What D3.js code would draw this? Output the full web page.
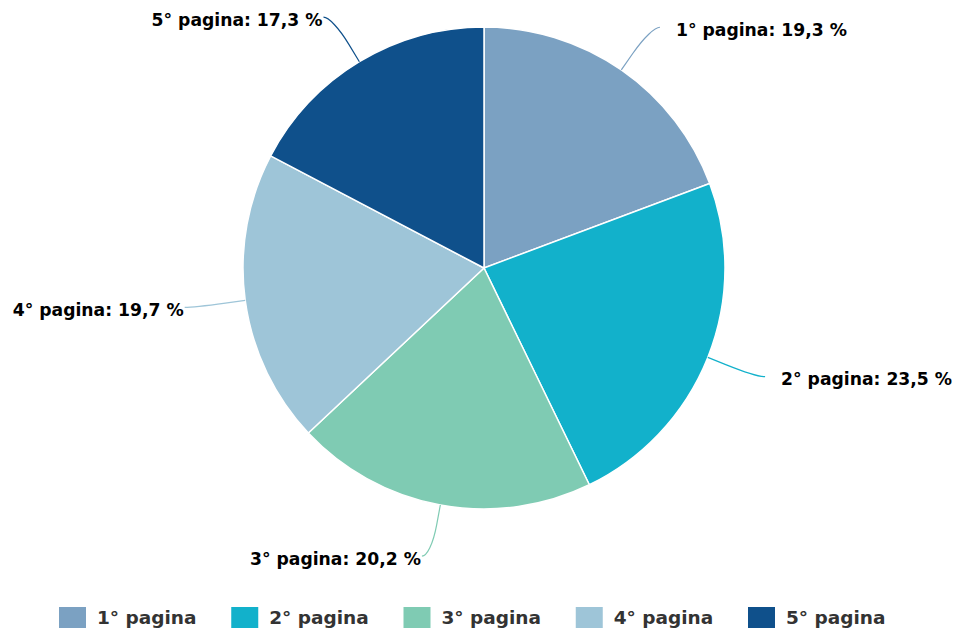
<!DOCTYPE html>
<html><head><meta charset="utf-8">
<script src="https://cdn.jsdelivr.net/npm/d3@7"></script>
<style>
html,body{margin:0;padding:0;background:#fff;}
svg{display:block;}
</style></head>
<body>
<svg id="chart" width="956" height="631"></svg>
<script>
const categories = ["1° pagina", "2° pagina", "3° pagina", "4° pagina", "5° pagina"];
const values = [19.3, 23.5, 20.2, 19.7, 17.3];
const valueLabels = ["19,3", "23,5", "20,2", "19,7", "17,3"];
const colors = ["#7ba1c2", "#12b1cb", "#7fcbb3", "#9ec5d8", "#0f508b"];

const W = 956, H = 631;
const cx = 484, cy = 268, r = 241;
const labelDist = 52, hPad = 9;
const svg = d3.select("#chart");
const font = "'DejaVu Sans', Verdana, sans-serif";

const pie = d3.pie().sort(null).value(d => d.v);
const data = pie(categories.map((c, i) => ({c, v: values[i], lab: valueLabels[i], col: colors[i]})));
const arc = d3.arc().innerRadius(0).outerRadius(r);

const g = svg.append("g").attr("transform", `translate(${cx},${cy})`);
g.selectAll("path.slice").data(data).join("path")
  .attr("class", "slice")
  .attr("d", arc)
  .attr("fill", d => d.data.col)
  .attr("stroke", "#ffffff")
  .attr("stroke-width", 1.5)
  .attr("stroke-linejoin", "round");

function pos(a, rad) { return [rad * Math.sin(a), -rad * Math.cos(a)]; }

const lab = g.append("g");
data.forEach(d => {
  const a = (d.startAngle + d.endAngle) / 2;
  const right = Math.sin(a) >= 0;
  const touch = pos(a, r);
  const brk = pos(a, r + 20);
  const nat = pos(a, r + labelDist);
  const anchor = [nat[0] + (right ? hPad : -hPad), nat[1]];
  const p = d3.path();
  p.moveTo(anchor[0], anchor[1]);
  p.bezierCurveTo(anchor[0] + (right ? -5 : 5), anchor[1],
    2 * brk[0] - touch[0], 2 * brk[1] - touch[1], brk[0], brk[1]);
  p.lineTo(touch[0], touch[1]);
  lab.append("path").attr("d", p.toString())
    .attr("fill", "none").attr("stroke", d.data.col).attr("stroke-width", 1.2);
  lab.append("text")
    .attr("x", anchor[0] + (right ? 16 : -1))
    .attr("y", anchor[1] + 3.5)
    .attr("dominant-baseline", "middle")
    .attr("text-anchor", right ? "start" : "end")
    .attr("font-family", font).attr("font-weight", "bold").attr("font-size", 17.2)
    .attr("fill", "#000")
    .text(`${d.data.c}: ${d.data.lab} %`);
});

// legend
const lx = d3.scaleLinear().domain([0, categories.length - 1]).range([59, 748]);
const leg = svg.append("g");
categories.forEach((c, i) => {
  const it = leg.append("g").attr("transform", `translate(${lx(i)},607)`);
  it.append("rect").attr("width", 27).attr("height", 21).attr("fill", colors[i]);
  it.append("text").attr("x", 38).attr("y", 12)
    .attr("dominant-baseline", "middle")
    .attr("font-family", font).attr("font-weight", "bold").attr("font-size", 18.5)
    .attr("fill", "#333333").text(c);
});
</script>
</body></html>
